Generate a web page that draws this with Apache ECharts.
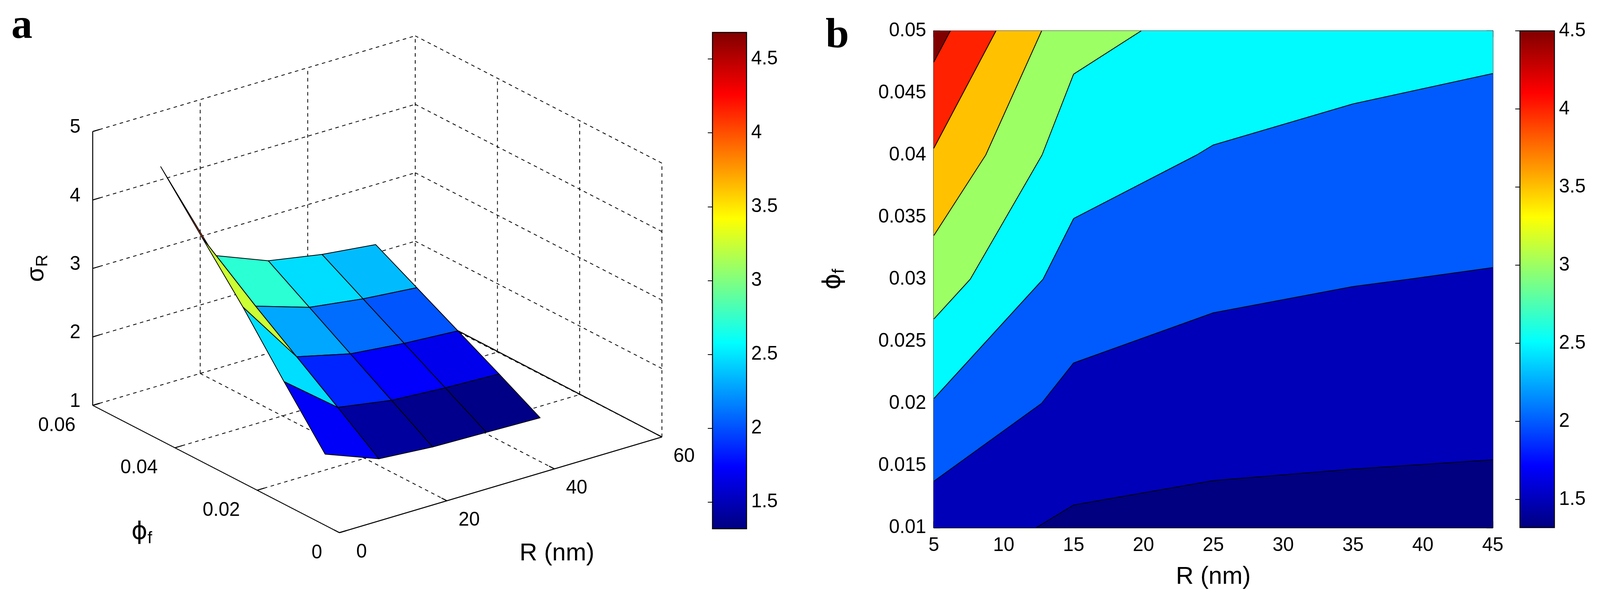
<!DOCTYPE html>
<html><head><meta charset="utf-8">
<script src="https://cdn.jsdelivr.net/npm/echarts@6/dist/echarts.min.js"></script>
<style>html,body{margin:0;padding:0;background:#fff;overflow:hidden}#c{width:100vw;height:100vh}</style>
</head><body><div id="c"></div>
<script>
// ---------- data ----------
const radii = [5, 15, 25, 35, 45];                 // R (nm)
const phiValues = [0.01, 0.02, 0.03, 0.04, 0.05];  // phi_f
const sigmaR5  = [1.72, 2.47, 3.25, 3.96, 4.68];
const sigmaR15 = [1.42, 1.86, 2.29, 2.72, 3.15];
const sigmaR25 = [1.36, 1.73, 2.10, 2.47, 2.84];
const sigmaR35 = [1.34, 1.68, 2.02, 2.36, 2.70];
const sigmaR45 = [1.32, 1.65, 1.97, 2.29, 2.61];
const sigma = [sigmaR5, sigmaR15, sigmaR25, sigmaR35, sigmaR45];
const contourLevels = [1.5, 2, 2.5, 3, 3.5, 4, 4.5];
const ticksR3d = [0, 20, 40, 60];
const ticksPhi3d = [0, 0.02, 0.04, 0.06];
const ticksZ3d = [1, 2, 3, 4, 5];
const colorbarTicks = [1.5, 2, 2.5, 3, 3.5, 4, 4.5];
const climA = [1.32, 4.68];
const climB = [1.32, 4.5];

// ---------- layout scaling to the real viewport ----------
const el = document.getElementById('c');
const SX = el.clientWidth / 4177, SY = el.clientHeight / 1539;
const X = v => v * SX, Y = v => v * SY, F = v => v * Math.min(SX, SY);

const FONT = "'Liberation Sans', Arial, sans-serif";
function clamp(v){return Math.max(0, Math.min(1, v));}
function jet(t){
  t = clamp(t);
  const r = clamp(1.5 - Math.abs(4*t - 3)), g = clamp(1.5 - Math.abs(4*t - 2)), b = clamp(1.5 - Math.abs(4*t - 1));
  return 'rgb(' + Math.round(r*255) + ',' + Math.round(g*255) + ',' + Math.round(b*255) + ')';
}
function jetV(v, cl){ return jet((v - cl[0]) / (cl[1] - cl[0])); }

const VIEW = {ox: 886, oy: 1364, rx: 842, ry: -245, px: -644, py: -326, zz: -175.3, rMax: 60, pMax: 0.06, z0: 1};
function proj(R, p, z){
  return [VIEW.ox + R/VIEW.rMax*VIEW.rx + p/VIEW.pMax*VIEW.px,
          VIEW.oy + R/VIEW.rMax*VIEW.ry + p/VIEW.pMax*VIEW.py + (z - VIEW.z0)*VIEW.zz];
}

const faces = [];
for (let i = 0; i < radii.length - 1; i++)
  for (let j = 0; j < phiValues.length - 1; j++) faces.push([i, j]);
faces.sort((a, b) => {
  const da = (radii[a[0]] + radii[a[0]+1]) / 120 + (phiValues[a[1]] + phiValues[a[1]+1]) / 0.12;
  const db = (radii[b[0]] + radii[b[0]+1]) / 120 + (phiValues[b[1]] + phiValues[b[1]+1]) / 0.12;
  return db - da;
});

const zMin = ticksZ3d[0], zMax = ticksZ3d[ticksZ3d.length-1];
const rMax = ticksR3d[ticksR3d.length-1], pMax = ticksPhi3d[ticksPhi3d.length-1];
const boxLines = [];
ticksR3d.forEach(r => { boxLines.push([r, 0, zMin, r, pMax, zMin, r === 0 ? 1 : 0]); });
ticksPhi3d.forEach(p => { boxLines.push([0, p, zMin, rMax, p, zMin, p === 0 ? 1 : 0]); });
ticksR3d.forEach(r => { boxLines.push([r, pMax, zMin, r, pMax, zMax, r === 0 ? 1 : 0]); });
ticksZ3d.forEach(z => { if (z !== zMin) boxLines.push([0, pMax, z, rMax, pMax, z, 0]); });
ticksPhi3d.forEach(p => { if (p !== pMax) boxLines.push([rMax, p, zMin, rMax, p, zMax, 0]); });
ticksZ3d.forEach(z => { if (z !== zMin) boxLines.push([rMax, 0, z, rMax, pMax, z, 0]); });
ticksPhi3d.forEach(p => boxLines.push([0, p, zMin, 1.3, p, zMin, 1]));
ticksR3d.forEach(r => boxLines.push([r, 0, zMin, r, 0.0013, zMin, 1]));
ticksZ3d.forEach(z => boxLines.push([0, pMax, z, 1.3, pMax, z, 1]));
boxLines.push([radii[4], phiValues[2], sigma[4][2], rMax, 0, zMin, 2]);

const labels3d = [];
ticksZ3d.forEach(z => labels3d.push([0, pMax, z, String(z), -32, -10, 'right']));
ticksPhi3d.forEach(p => labels3d.push([0, p, zMin, String(p), -45, 52, 'right']));
ticksR3d.forEach(r => labels3d.push([r, 0, zMin, String(r), 58, 50, 'center']));

const cells = [];
for (let i = 0; i < radii.length - 1; i++)
  for (let j = 0; j < phiValues.length - 1; j++) cells.push([i, j]);

function clipPoly(pts, lo, keepAbove){
  const out = [];
  for (let k = 0; k < pts.length; k++){
    const a = pts[k], b = pts[(k+1) % pts.length];
    const ina = keepAbove ? a[2] >= lo : a[2] <= lo;
    const inb = keepAbove ? b[2] >= lo : b[2] <= lo;
    if (ina) out.push(a);
    if (ina !== inb){
      const t = (lo - a[2]) / (b[2] - a[2]);
      out.push([a[0] + t*(b[0]-a[0]), a[1] + t*(b[1]-a[1]), lo]);
    }
  }
  return out;
}
function cellVerts(i, j){
  return [[radii[i], phiValues[j], sigma[i][j]], [radii[i+1], phiValues[j], sigma[i+1][j]],
          [radii[i+1], phiValues[j+1], sigma[i+1][j+1]], [radii[i], phiValues[j+1], sigma[i][j+1]]];
}
function gradientStops(){
  const s = [];
  for (let k = 0; k <= 64; k++) s.push({offset: k/64, color: jet(1 - k/64)});
  return s;
}
function colorbarSeries(xi, yi, cl){
  return {type: 'custom', xAxisIndex: xi, yAxisIndex: yi, z: 1, data: [0], silent: true,
    renderItem: function(params, api){
      const p0 = api.coord([0, cl[1]]), p1 = api.coord([1, cl[0]]);
      const children = [{type: 'rect', shape: {x: p0[0], y: p0[1], width: p1[0]-p0[0], height: p1[1]-p0[1]},
        style: {fill: new echarts.graphic.LinearGradient(0, 0, 0, 1, gradientStops()), stroke: '#000', lineWidth: 2.5}}];
      colorbarTicks.forEach(v => {
        const q = api.coord([1, v]);
        children.push({type: 'text', x: q[0] + X(12), y: q[1],
          style: {text: String(v), fontFamily: FONT, fontSize: F(50), fill: '#000', align: 'left', verticalAlign: 'middle'}});
      });
      return {type: 'group', children: children};
    }};
}

const tickAxisCommon = {
  axisLine: {show: false}, splitLine: {show: false}, axisLabel: {show: false},
  axisTick: {show: true, inside: true, length: 12, lineStyle: {color: '#000', width: 2}, customValues: colorbarTicks}
};
const PHI = 'ϕ';
const frameAxis = {axisLine: {show: true, lineStyle: {color: '#000', width: 2.5}},
  axisTick: {inside: true, length: 16, lineStyle: {color: '#000', width: 2.5}}, splitLine: {show: false}};

const option = {
  backgroundColor: '#fff',
  animation: false,
  grid: [
    {left: 0, top: 0, width: X(2000), height: Y(1539)},
    {left: X(2438), top: Y(79), width: X(1459), height: Y(1272)},
    {left: X(1860), top: Y(83), width: X(89), height: Y(1271)},
    {left: X(3968), top: Y(79), width: X(90), height: Y(1272)}
  ],
  xAxis: [
    {gridIndex: 0, type: 'value', min: 0, max: 2000, show: false},
    Object.assign({gridIndex: 1, type: 'value', min: 5, max: 45, interval: 5, position: 'bottom',
     name: 'R (nm)', nameLocation: 'middle', nameGap: Y(95),
     nameTextStyle: {fontFamily: FONT, fontSize: F(64), color: '#000'},
     axisLabel: {fontFamily: FONT, fontSize: F(50), color: '#000', margin: Y(22)}}, frameAxis),
    Object.assign({gridIndex: 1, type: 'value', min: 5, max: 45, interval: 5, position: 'top',
     axisLabel: {show: false}}, frameAxis),
    {gridIndex: 2, type: 'value', min: 0, max: 1, show: false},
    {gridIndex: 3, type: 'value', min: 0, max: 1, show: false}
  ],
  yAxis: [
    {gridIndex: 0, type: 'value', min: 0, max: 1539, inverse: true, show: false},
    Object.assign({gridIndex: 1, type: 'value', min: 0.01, max: 0.05, interval: 0.005, position: 'left',
     name: '{a|' + PHI + '}{s|f}', nameLocation: 'middle', nameGap: X(225), nameRotate: 90,
     nameTextStyle: {fontFamily: FONT, color: '#000', rich: {a: {fontSize: F(64), fontFamily: "'DejaVu Sans', sans-serif"}, s: {fontSize: F(44), fontFamily: FONT, padding: [F(30), 0, 0, 0]}}},
     axisLabel: {fontFamily: FONT, fontSize: F(50), color: '#000', margin: X(20), formatter: v => String(+v.toFixed(4))}}, frameAxis),
    Object.assign({gridIndex: 1, type: 'value', min: 0.01, max: 0.05, interval: 0.005, position: 'right',
     axisLabel: {show: false}}, frameAxis),
    Object.assign({gridIndex: 2, type: 'value', min: climA[0], max: climA[1], position: 'right'}, tickAxisCommon),
    Object.assign({gridIndex: 2, type: 'value', min: climA[0], max: climA[1], position: 'left'}, tickAxisCommon),
    Object.assign({gridIndex: 3, type: 'value', min: climB[0], max: climB[1], position: 'right'}, tickAxisCommon),
    Object.assign({gridIndex: 3, type: 'value', min: climB[0], max: climB[1], position: 'left'}, tickAxisCommon)
  ],
  series: [
    {type: 'custom', xAxisIndex: 0, yAxisIndex: 0, z: 1, data: boxLines, silent: true,
     renderItem: function(params, api){
       const d = boxLines[params.dataIndex];
       const a = api.coord(proj(d[0], d[1], d[2])), b = api.coord(proj(d[3], d[4], d[5]));
       return {type: 'line', shape: {x1: a[0], y1: a[1], x2: b[0], y2: b[1]},
         style: {stroke: '#000', lineWidth: d[6] ? 2.5 : 2, lineDash: d[6] ? null : [9, 9]}};
     }},
    {type: 'custom', xAxisIndex: 0, yAxisIndex: 0, z: 2, data: faces, silent: true,
     renderItem: function(params, api){
       const f = faces[params.dataIndex], i = f[0], j = f[1];
       const pts = [[i, j], [i+1, j], [i+1, j+1], [i, j+1]].map(q => api.coord(proj(radii[q[0]], phiValues[q[1]], sigma[q[0]][q[1]])));
       return {type: 'polygon', shape: {points: pts},
         style: {fill: jetV(sigma[i][j], climA), stroke: '#000', lineWidth: 2, lineJoin: 'round'}};
     }},
    {type: 'custom', xAxisIndex: 0, yAxisIndex: 0, z: 3, data: [0], silent: true,
     renderItem: function(params, api){
       const d = boxLines[boxLines.length - 1];
       const a = api.coord(proj(d[0], d[1], d[2])), b = api.coord(proj(d[3], d[4], d[5]));
       return {type: 'line', shape: {x1: a[0], y1: a[1], x2: b[0], y2: b[1]}, style: {stroke: '#000', lineWidth: 2.5}};
     }},
    {type: 'custom', xAxisIndex: 0, yAxisIndex: 0, z: 4, data: labels3d, silent: true,
     renderItem: function(params, api){
       const d = labels3d[params.dataIndex];
       const p = api.coord(proj(d[0], d[1], d[2]));
       return {type: 'text', x: p[0] + X(d[4]), y: p[1] + Y(d[5]),
         style: {text: d[3], fontFamily: FONT, fontSize: F(50), fill: '#000', align: d[6], verticalAlign: 'middle'}};
     }},
    {type: 'custom', xAxisIndex: 1, yAxisIndex: 1, z: 2, data: cells, clip: true, silent: true,
     renderItem: function(params, api){
       const c = cells[params.dataIndex];
       const verts = cellVerts(c[0], c[1]);
       const bounds = [-Infinity].concat(contourLevels, [Infinity]);
       const children = [];
       for (let k = 0; k < bounds.length - 1; k++){
         let poly = verts;
         if (isFinite(bounds[k])) poly = clipPoly(poly, bounds[k], true);
         if (poly.length && isFinite(bounds[k+1])) poly = clipPoly(poly, bounds[k+1], false);
         if (poly.length < 3) continue;
         const colVal = isFinite(bounds[k]) ? bounds[k] : climB[0];
         const col = jetV(colVal, climB);
         children.push({type: 'polygon', shape: {points: poly.map(q => api.coord([q[0], q[1]]))},
           style: {fill: col, stroke: col, lineWidth: 1.5}});
       }
       return {type: 'group', children: children};
     }},
    {type: 'custom', xAxisIndex: 1, yAxisIndex: 1, z: 3, data: cells, clip: true, silent: true,
     renderItem: function(params, api){
       const c = cells[params.dataIndex];
       const verts = cellVerts(c[0], c[1]);
       const children = [];
       contourLevels.forEach(L => {
         const pts = [];
         for (let k = 0; k < 4; k++){
           const a = verts[k], b = verts[(k+1) % 4];
           if ((a[2] - L) * (b[2] - L) < 0){
             const t = (L - a[2]) / (b[2] - a[2]);
             pts.push(api.coord([a[0] + t*(b[0]-a[0]), a[1] + t*(b[1]-a[1])]));
           }
         }
         for (let m = 0; m + 1 < pts.length; m += 2)
           children.push({type: 'line', shape: {x1: pts[m][0], y1: pts[m][1], x2: pts[m+1][0], y2: pts[m+1][1]},
             style: {stroke: '#000', lineWidth: 2}});
       });
       return {type: 'group', children: children};
     }},
    colorbarSeries(3, 3, climA),
    colorbarSeries(4, 5, climB)
  ],
  graphic: [
    {type: 'text', x: X(57), y: Y(69), style: {text: 'a', fontFamily: "'Liberation Serif', serif", fontWeight: 'bold', fontSize: F(110), fill: '#000', align: 'center', verticalAlign: 'middle'}},
    {type: 'text', x: X(2186), y: Y(93), style: {text: 'b', fontFamily: "'Liberation Serif', serif", fontWeight: 'bold', fontSize: F(110), fill: '#000', align: 'center', verticalAlign: 'middle'}},
    {type: 'text', x: X(1454), y: Y(1418), style: {text: 'R (nm)', fontFamily: FONT, fontSize: F(64), fill: '#000', align: 'center', verticalAlign: 'middle'}},
    {type: 'text', x: X(370), y: Y(1364), style: {text: '{a|' + PHI + '}{s|f}', fontFamily: FONT, fill: '#000', align: 'center', verticalAlign: 'middle',
      rich: {a: {fontSize: F(64), fontFamily: "'DejaVu Sans', sans-serif"}, s: {fontSize: F(44), fontFamily: FONT, padding: [F(30), 0, 0, 0]}}}},
    {type: 'text', x: X(96), y: Y(687), rotation: Math.PI/2, style: {text: '{a|σ}{s|R}', fontFamily: FONT, fill: '#000', align: 'center', verticalAlign: 'middle',
      rich: {a: {fontSize: F(64), fontFamily: FONT}, s: {fontSize: F(44), fontFamily: FONT, padding: [F(30), 0, 0, 0]}}}}
  ]
};
const chart = echarts.init(el);
chart.setOption(option);
</script></body></html>
